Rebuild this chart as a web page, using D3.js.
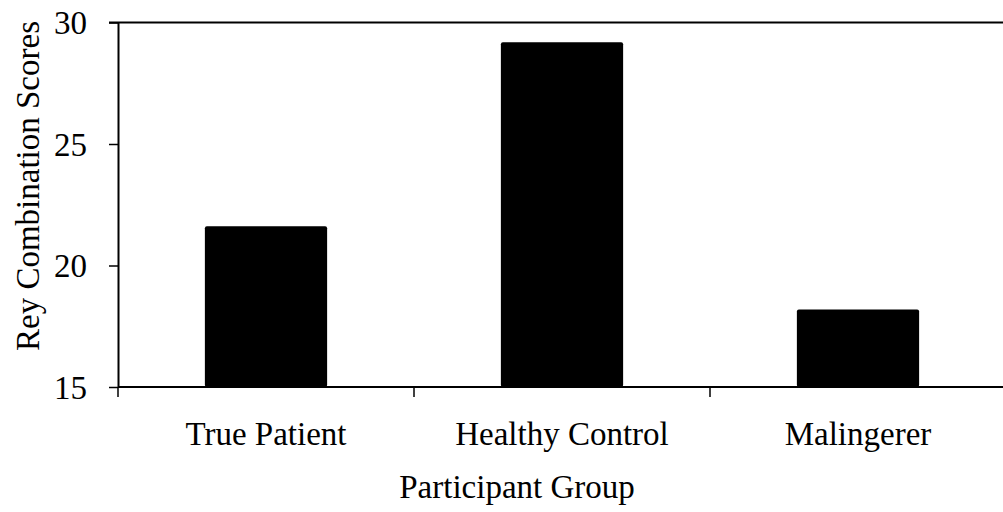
<!DOCTYPE html>
<html>
<head>
<meta charset="utf-8">
<script src="https://cdn.jsdelivr.net/npm/d3@7"></script>
<style>
  body { margin: 0; background: #fff; }
  svg { display: block; }
  text { font-family: "Liberation Serif", "Times New Roman", serif; fill: #000; }
</style>
</head>
<body>
<svg id="chart" width="1003" height="512"></svg>
<script>
var groups = ['True Patient', 'Healthy Control', 'Malingerer'];
var scores = [21.62, 29.19, 18.19];
var yTicks = [15, 20, 25, 30];

var svg = d3.select('#chart');
var plotLeft = 118, plotRight = 1006, plotTop = 22.5, plotBottom = 387;

var x = d3.scaleBand().domain(groups).range([plotLeft, plotRight]).padding(0);
var y = d3.scaleLinear().domain([15, 30]).range([plotBottom, plotTop]);
var barWidth = x.bandwidth() * 0.413;

// top border of the plot area
svg.append('line')
  .attr('x1', plotLeft - 9).attr('x2', 1003)
  .attr('y1', plotTop).attr('y2', plotTop)
  .attr('stroke', '#000').attr('stroke-width', 2);

svg.selectAll('.bar')
  .data(groups)
  .enter()
  .append('rect')
  .classed('bar', true)
  .attr('x', (g) => x(g) + (x.bandwidth() - barWidth) / 2)
  .attr('y', (g, i) => y(scores[i]))
  .attr('width', barWidth)
  .attr('height', (g, i) => plotBottom - y(scores[i]))
  .attr('rx', 2)
  .attr('fill', '#000');

var yAxis = svg.append('g')
  .attr('transform', `translate(${plotLeft},0)`)
  .call(d3.axisLeft(y).tickValues(yTicks).tickSize(9).tickSizeOuter(0).tickPadding(22));
yAxis.select('.domain').attr('stroke-width', 2);
yAxis.selectAll('.tick line').attr('stroke-width', 1.5);
yAxis.selectAll('.tick text')
  .style('font-size', '33px')
  .attr('dy', '0.34em');

// bottom axis: line plus ticks at category boundaries
var xAxis = svg.append('g');
xAxis.append('line')
  .attr('x1', plotLeft).attr('x2', 1003)
  .attr('y1', plotBottom).attr('y2', plotBottom)
  .attr('stroke', '#000').attr('stroke-width', 2);
var edges = groups.map((g) => x(g));
xAxis.selectAll('.xtick')
  .data(edges)
  .enter()
  .append('line')
  .classed('xtick', true)
  .attr('x1', (d) => d).attr('x2', (d) => d)
  .attr('y1', plotBottom).attr('y2', plotBottom + 10)
  .attr('stroke', '#000').attr('stroke-width', 1.5);
xAxis.selectAll('.xlabel')
  .data(groups)
  .enter()
  .append('text')
  .classed('xlabel', true)
  .attr('x', (g) => x(g) + x.bandwidth() / 2)
  .attr('y', 445)
  .attr('text-anchor', 'middle')
  .style('font-size', '33px')
  .text((g) => g);

svg.append('text')
  .attr('x', 517)
  .attr('y', 498)
  .attr('text-anchor', 'middle')
  .style('font-size', '33px')
  .text('Participant Group');

svg.append('text')
  .attr('transform', 'translate(39,186) rotate(-90)')
  .attr('text-anchor', 'middle')
  .style('font-size', '33px')
  .text('Rey Combination Scores');
</script>
</body>
</html>
